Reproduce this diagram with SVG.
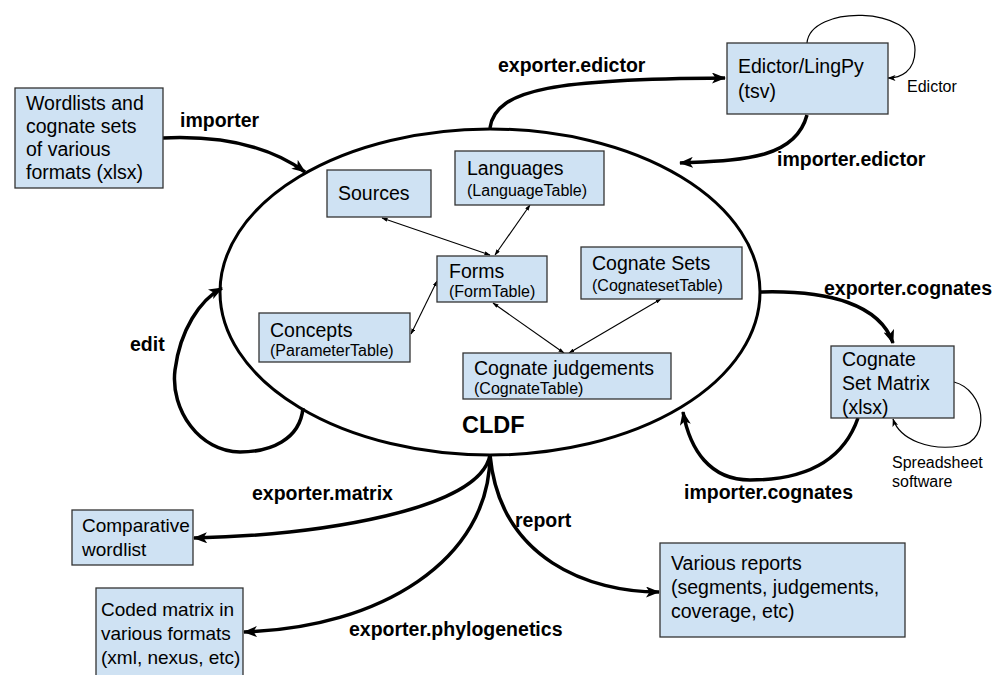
<svg xmlns="http://www.w3.org/2000/svg" width="995" height="675" viewBox="0 0 995 675">
<defs>
<marker id="arr" viewBox="0 0 14 11" refX="13" refY="5.5" markerWidth="14" markerHeight="11" markerUnits="userSpaceOnUse" orient="auto">
<path d="M0,0 L14,5.5 L0,11 L3.5,5.5 z" fill="#000"/>
</marker>
<marker id="sarr" viewBox="0 0 8 6" refX="7.5" refY="3" markerWidth="8" markerHeight="6" markerUnits="userSpaceOnUse" orient="auto">
<path d="M0,0 L8,3 L0,6 L2,3 z" fill="#000"/>
</marker>
<marker id="tarr" viewBox="0 0 6 4" refX="5.5" refY="2" markerWidth="6" markerHeight="4" markerUnits="userSpaceOnUse" orient="auto-start-reverse">
<path d="M0,0 L6,2 L0,4 z" fill="#000"/>
</marker>
</defs>
<style>
.box{fill:#cfe2f3;stroke:#333;stroke-width:1.3}
.t{font-family:"Liberation Sans",Arial,sans-serif;font-size:19.5px;fill:#000}
.t2{font-family:"Liberation Sans",Arial,sans-serif;font-size:19px;fill:#000}
.s{font-family:"Liberation Sans",Arial,sans-serif;font-size:16px;fill:#000}
.lbl{font-family:"Liberation Sans",Arial,sans-serif;font-size:19.5px;font-weight:bold;fill:#000}
.thick{fill:none;stroke:#000;stroke-width:3.5;marker-end:url(#arr)}
.loop{fill:none;stroke:#000;stroke-width:1.2;marker-end:url(#sarr)}
.thin{fill:none;stroke:#000;stroke-width:1.1;marker-start:url(#tarr);marker-end:url(#tarr)}
</style>
<rect width="995" height="675" fill="#fff"/>

<g id="cldf">
<ellipse cx="490" cy="292" rx="270" ry="163" fill="none" stroke="#000" stroke-width="3"/>
<text class="lbl" x="462" y="433" style="font-size:23.5px">CLDF</text>
</g>

<g id="connectors">
<path class="thick" d="M163,138 C230,135 275,150 305,172"/>
<path class="thick" d="M490,128 C495,88 560,79 725,78"/>
<path class="loop" d="M807,43 C810,5 915,5 915,50 C915,72 900,78 888,78"/>
<path class="thick" d="M807,115 C795,160 740,160 680,163"/>
<path class="thick" d="M760,292 C830,290 880,305 893,343"/>
<path class="loop" d="M954,382 C985,390 992,440 960,446 C930,451 900,440 893,419"/>
<path class="thick" d="M858,418 C840,470 790,480 750,480 C710,480 690,450 683,412"/>
<path class="thick" d="M303,408 C300,440 270,452 240,452 C200,452 170,410 175,370 C180,330 200,300 222,288"/>
<path class="thick" d="M490,455 C480,510 320,535 194,538"/>
<path class="thick" d="M490,455 C490,560 380,628 244,632"/>
<path class="thick" d="M490,455 C500,560 590,592 659,592"/>
<path class="thin" d="M382,218 L490,255"/>
<path class="thin" d="M530,205 L495,255"/>
<path class="thin" d="M411,334 L437,281"/>
<path class="thin" d="M493,303 L564,353"/>
<path class="thin" d="M661,299 L569,353"/>
</g>

<g id="labels">
<text class="lbl" x="180" y="127">importer</text>
<text class="lbl" x="498" y="72">exporter.edictor</text>
<text class="lbl" x="777" y="166">importer.edictor</text>
<text class="lbl" x="824" y="295">exporter.cognates</text>
<text class="lbl" x="684" y="499">importer.cognates</text>
<text class="lbl" x="130" y="351">edit</text>
<text class="lbl" x="252" y="500">exporter.matrix</text>
<text class="lbl" x="515" y="527">report</text>
<text class="lbl" x="349" y="636">exporter.phylogenetics</text>
<text class="s" x="907" y="92">Edictor</text>
<text class="s" x="892" y="468">Spreadsheet</text>
<text class="s" x="892" y="487">software</text>
</g>

<g id="wordlists">
<rect class="box" x="15" y="88" width="148" height="100"/>
<text class="t" x="26" y="110">Wordlists and</text>
<text class="t" x="26" y="133">cognate sets</text>
<text class="t" x="26" y="156">of various</text>
<text class="t" x="26" y="179">formats (xlsx)</text>
</g>

<g id="edictor">
<rect class="box" x="727" y="43" width="161" height="71"/>
<text class="t" x="738" y="73">Edictor/LingPy</text>
<text class="t" x="738" y="98">(tsv)</text>
</g>

<g id="sources">
<rect class="box" x="327" y="170" width="104" height="47"/>
<text class="t" x="338" y="200">Sources</text>
</g>

<g id="languages">
<rect class="box" x="455" y="151" width="149" height="54"/>
<text class="t" x="467" y="175">Languages</text>
<text class="s" x="467" y="196">(LanguageTable)</text>
</g>

<g id="forms">
<rect class="box" x="437" y="256" width="110" height="46"/>
<text class="t" x="449" y="278">Forms</text>
<text class="s" x="449" y="297">(FormTable)</text>
</g>

<g id="cognatesets">
<rect class="box" x="581" y="247" width="161" height="52"/>
<text class="t" x="592" y="270">Cognate Sets</text>
<text class="s" x="592" y="291">(CognatesetTable)</text>
</g>

<g id="concepts">
<rect class="box" x="259" y="313" width="151" height="49"/>
<text class="t" x="270" y="337">Concepts</text>
<text class="s" x="270" y="356">(ParameterTable)</text>
</g>

<g id="judgements">
<rect class="box" x="463" y="353" width="208" height="46"/>
<text class="t" x="474" y="375">Cognate judgements</text>
<text class="s" x="474" y="394">(CognateTable)</text>
</g>

<g id="matrix">
<rect class="box" x="831" y="346" width="123" height="72"/>
<text class="t" x="842" y="366">Cognate</text>
<text class="t" x="842" y="390">Set Matrix</text>
<text class="t" x="842" y="414">(xlsx)</text>
</g>

<g id="comparative">
<rect class="box" x="72" y="510" width="121" height="55"/>
<text class="t2" x="82" y="532">Comparative</text>
<text class="t2" x="82" y="556">wordlist</text>
</g>

<g id="coded">
<rect class="box" x="96" y="588" width="147" height="95"/>
<text class="t2" x="101" y="616">Coded matrix in</text>
<text class="t2" x="101" y="640">various formats</text>
<text class="t2" x="101" y="664">(xml, nexus, etc)</text>
</g>

<g id="reports">
<rect class="box" x="660" y="543" width="245" height="94"/>
<text class="t" x="671" y="570">Various reports</text>
<text class="t" x="671" y="594">(segments, judgements,</text>
<text class="t" x="671" y="618">coverage, etc)</text>
</g>
</svg>
